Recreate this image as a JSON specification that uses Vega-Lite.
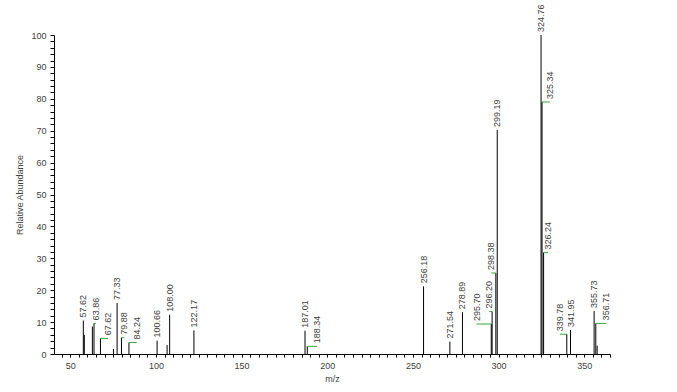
{
  "$schema": "https://vega.github.io/schema/vega-lite/v6.json",
  "width": 556,
  "height": 319,
  "autosize": {"type": "none"},
  "padding": {"left": 54, "top": 35, "right": 67, "bottom": 38},
  "background": "white",
  "config": {
    "view": {"stroke": null},
    "font": "Liberation Sans",
    "axis": {
      "grid": false,
      "domainColor": "black",
      "tickColor": "black",
      "labelColor": "#404040",
      "labelFont": "Liberation Sans",
      "labelFontSize": 9,
      "titleFont": "Liberation Sans",
      "titleFontSize": 9,
      "titleFontWeight": "normal",
      "titleColor": "#404040"
    }
  },
  "data": {
    "values": [
      {"mz": 57.62, "i": 10.5, "label": "57.62", "lx": 57.62},
      {"mz": 58.2, "i": 6.0, "label": "", "lx": 58.2},
      {"mz": 62.9, "i": 8.6, "label": "", "lx": 62.9},
      {"mz": 63.86, "i": 9.6, "label": "63.86", "lx": 65.0},
      {"mz": 67.62, "i": 4.9, "label": "67.62", "lx": 72.0},
      {"mz": 75.2, "i": 1.6, "label": "", "lx": 75.2},
      {"mz": 77.33, "i": 16.0, "label": "77.33", "lx": 77.33},
      {"mz": 79.88, "i": 5.1, "label": "79.88", "lx": 81.6},
      {"mz": 84.24, "i": 3.6, "label": "84.24", "lx": 88.8},
      {"mz": 100.66, "i": 4.2, "label": "100.66", "lx": 100.66},
      {"mz": 106.5, "i": 2.8, "label": "", "lx": 106.5},
      {"mz": 108.0, "i": 12.3, "label": "108.00", "lx": 108.0},
      {"mz": 122.17, "i": 7.4, "label": "122.17", "lx": 122.17},
      {"mz": 187.01, "i": 7.3, "label": "187.01", "lx": 187.01},
      {"mz": 188.34, "i": 2.4, "label": "188.34", "lx": 194.0},
      {"mz": 256.18, "i": 21.2, "label": "256.18", "lx": 256.18},
      {"mz": 271.54, "i": 3.9, "label": "271.54", "lx": 271.54},
      {"mz": 278.89, "i": 13.1, "label": "278.89", "lx": 278.89},
      {"mz": 295.7, "i": 9.4, "label": "295.70", "lx": 287.1},
      {"mz": 296.2, "i": 13.3, "label": "296.20", "lx": 294.5},
      {"mz": 298.38, "i": 25.4, "label": "298.38", "lx": 295.8},
      {"mz": 299.19, "i": 70.2, "label": "299.19", "lx": 299.19},
      {"mz": 324.76, "i": 100, "label": "324.76", "lx": 324.76},
      {"mz": 325.34, "i": 79.0, "label": "325.34", "lx": 329.8},
      {"mz": 326.24, "i": 31.8, "label": "326.24", "lx": 328.8},
      {"mz": 339.78, "i": 6.2, "label": "339.78", "lx": 335.7},
      {"mz": 341.95, "i": 7.5, "label": "341.95", "lx": 341.95},
      {"mz": 355.73, "i": 13.5, "label": "355.73", "lx": 355.73},
      {"mz": 356.71, "i": 9.6, "label": "356.71", "lx": 362.8},
      {"mz": 357.5, "i": 2.6, "label": "", "lx": 357.5}
    ]
  },
  "encoding": {
    "x": {
      "field": "mz",
      "type": "quantitative",
      "scale": {"domain": [40.5, 365], "nice": false, "zero": false},
      "axis": {
        "title": "m/z",
        "values": [45, 50, 55, 60, 65, 70, 75, 80, 85, 90, 95, 100, 105, 110, 115, 120, 125, 130, 135, 140, 145, 150, 155, 160, 165, 170, 175, 180, 185, 190, 195, 200, 205, 210, 215, 220, 225, 230, 235, 240, 245, 250, 255, 260, 265, 270, 275, 280, 285, 290, 295, 300, 305, 310, 315, 320, 325, 330, 335, 340, 345, 350, 355, 360, 365],
        "labelExpr": "datum.value % 50 === 0 ? datum.label : ''",
        "tickSize": 3,
        "labelPadding": 4,
        "labelFlush": false,
        "labelOverlap": false,
        "titlePadding": 4
      }
    },
    "y": {
      "field": "i",
      "type": "quantitative",
      "scale": {"domain": [0, 100], "nice": false},
      "axis": {
        "title": "Relative Abundance",
        "values": [0, 2, 4, 6, 8, 10, 12, 14, 16, 18, 20, 22, 24, 26, 28, 30, 32, 34, 36, 38, 40, 42, 44, 46, 48, 50, 52, 54, 56, 58, 60, 62, 64, 66, 68, 70, 72, 74, 76, 78, 80, 82, 84, 86, 88, 90, 92, 94, 96, 98, 100],
        "labelExpr": "datum.value % 10 === 0 ? datum.label : ''",
        "tickSize": 4,
        "labelPadding": 4,
        "labelFlush": false,
        "labelOverlap": false,
        "titlePadding": 6
      }
    }
  },
  "layer": [
    {
      "mark": {"type": "rule", "color": "black", "strokeWidth": 1},
      "encoding": {
        "y2": {"datum": 0}
      }
    },
    {
      "transform": [{"filter": "datum.lx != datum.mz"}],
      "mark": {"type": "rule", "color": "#33a833", "strokeWidth": 1},
      "encoding": {
        "x2": {"field": "lx"}
      }
    },
    {
      "transform": [{"filter": "datum.label != ''"}],
      "mark": {"type": "text", "angle": 270, "align": "left", "baseline": "middle", "dx": 3, "fontSize": 9, "color": "#404040", "font": "Liberation Sans"},
      "encoding": {
        "x": {"field": "lx", "type": "quantitative"},
        "text": {"field": "label"}
      }
    }
  ]
}
